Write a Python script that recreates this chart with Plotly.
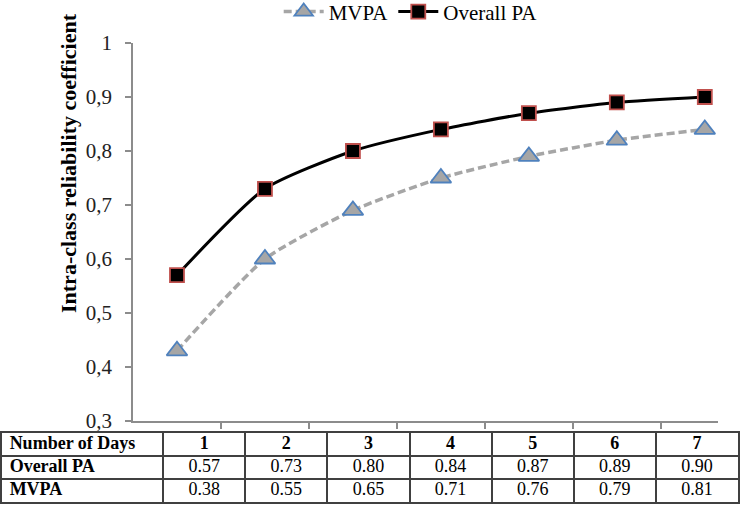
import plotly.graph_objects as go

# chart values
days = [1, 2, 3, 4, 5, 6, 7]
overall_pa = [0.57, 0.73, 0.80, 0.84, 0.87, 0.89, 0.90]
mvpa = [0.43, 0.60, 0.69, 0.75, 0.79, 0.82, 0.84]

# values printed in the table under the chart
row_labels = ["Number of Days", "Overall PA", "MVPA"]
table_overall = [0.57, 0.73, 0.80, 0.84, 0.87, 0.89, 0.90]
table_mvpa = [0.38, 0.55, 0.65, 0.71, 0.76, 0.79, 0.81]

W, H = 740, 505
serif = "Liberation Serif, Times New Roman, serif"
axis_grey = "#8c8c8c"
table_line = "#404040"

fig = go.Figure()

# MVPA - dashed grey with blue-edged triangles
fig.add_trace(go.Scatter(
    x=days, y=mvpa, name="MVPA", mode="lines+markers",
    line=dict(color="#a6a6a6", width=3.5, dash="8px,4px", shape="spline", smoothing=0.6),
    marker=dict(symbol="triangle-up", size=18, color="#a6a6a6",
                line=dict(color="#4f81bd", width=1.8)),
))

# Overall PA - solid black with red-edged squares
fig.add_trace(go.Scatter(
    x=days, y=overall_pa, name="Overall PA", mode="lines+markers",
    line=dict(color="black", width=3, shape="spline", smoothing=0.6),
    marker=dict(symbol="square", size=14, color="black",
                line=dict(color="#c0504d", width=1.8)),
))

# table underneath, drawn as text on its own pair of axes
# label column spans [-1.963, 0], each day column is 1 unit wide
label_x = -1.87
col_x = [d - 0.5 for d in days]
rows = [
    ["<b>%s</b>" % row_labels[0]] + ["<b>%d</b>" % d for d in days],
    ["<b>%s</b>" % row_labels[1]] + ["%.2f" % v for v in table_overall],
    ["<b>%s</b>" % row_labels[2]] + ["%.2f" % v for v in table_mvpa],
]
for i, row in enumerate(rows):
    fig.add_trace(go.Scatter(
        x=[label_x] + col_x, y=[i] * len(row), text=row,
        mode="text", textposition=["middle right"] + ["middle center"] * len(days),
        textfont=dict(family=serif, size=18, color="black"),
        xaxis="x2", yaxis="y2", showlegend=False, hoverinfo="skip", cliponaxis=False,
    ))

fig.update_layout(
    width=W, height=H,
    margin=dict(l=0, r=0, t=0, b=0, autoexpand=False),
    paper_bgcolor="white", plot_bgcolor="white",
    separators=",.",
    font=dict(family=serif, color="black"),
    showlegend=True,
    legend=dict(orientation="h", x=0.555, xanchor="center", y=1.017, yanchor="top",
                font=dict(family=serif, size=21), bgcolor="rgba(0,0,0,0)",
                itemwidth=40, tracegroupgap=0),
    xaxis=dict(domain=[133 / W, 718 / W], range=[0.5, 7.15], automargin=False,
               showgrid=False, zeroline=False,
               showline=True, linecolor=axis_grey, linewidth=1.5,
               tickmode="array", tickvals=[1.5, 2.5, 3.5, 4.5, 5.5, 6.5],
               ticks="outside", ticklen=6, tickcolor=axis_grey, tickwidth=1.5,
               showticklabels=False),
    yaxis=dict(domain=[1 - 421 / H, 1 - 43 / H], range=[0.3, 1.0], automargin=False,
               showgrid=False, zeroline=False,
               showline=True, linecolor=axis_grey, linewidth=1.5,
               tickmode="array", tickvals=[0.3, 0.4, 0.5, 0.6, 0.7, 0.8, 0.9, 1.0],
               ticks="outside", ticklen=6, tickcolor=axis_grey, tickwidth=1.5,
               ticklabelstandoff=9,
               tickfont=dict(family=serif, size=21, color="#222222")),
    xaxis2=dict(domain=[2 / W, 738 / W], range=[-1.963, 7], anchor="y2", automargin=False,
                tickmode="array", tickvals=[0, 1, 2, 3, 4, 5, 6],
                showgrid=True, gridcolor=table_line, gridwidth=1.5,
                showline=True, mirror=True, linecolor=table_line, linewidth=1.5,
                zeroline=False, showticklabels=False, ticks=""),
    yaxis2=dict(domain=[1 - 502 / H, 1 - 433 / H], range=[2.5, -0.5], anchor="x2", automargin=False,
                tickmode="array", tickvals=[0.5, 1.5],
                showgrid=True, gridcolor=table_line, gridwidth=1.5,
                showline=True, mirror=True, linecolor=table_line, linewidth=1.5,
                zeroline=False, showticklabels=False, ticks=""),
    annotations=[dict(
        text="<b>Intra-class reliability coefficient</b>",
        xref="paper", yref="paper", x=68 / W, y=1 - 163 / H,
        xanchor="center", yanchor="middle",
        textangle=-90, showarrow=False,
        font=dict(family=serif, size=22, color="black"),
    )],
)

# page body has a default 8px margin; drop it so the figure fills the window
fig.write_html("out.html", config={"displayModeBar": False},
               post_script="document.body.style.margin = '0';")
